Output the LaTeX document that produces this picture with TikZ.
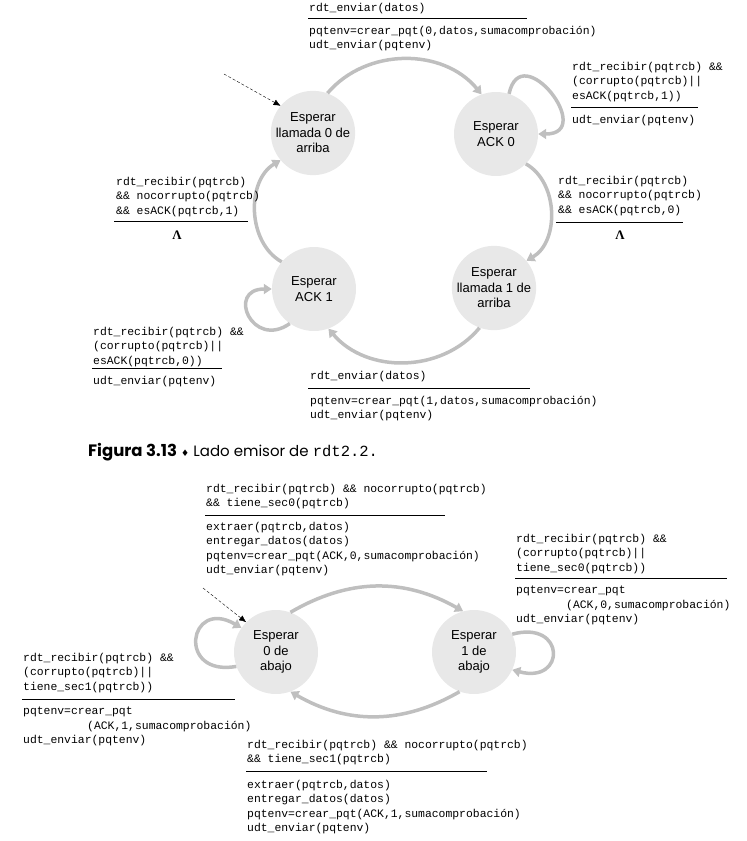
\documentclass[tikz,border=0pt]{standalone}
\usepackage{fontspec}
\setmainfont{Liberation Sans}
\newfontfamily\codefont{Liberation Mono}
\newfontfamily\capfont{Poppins}
\newfontfamily\symfont{DejaVu Sans}
\newfontfamily\lamfont{Liberation Serif}
\usetikzlibrary{arrows.meta}

\begin{document}
\begin{tikzpicture}[x=1pt,y=-1pt,
  state/.style={circle,fill=gray!18,minimum size=84pt,inner sep=0pt,align=center,
    font=\fontsize{13}{15.5}\selectfont},
  trans/.style={draw=gray!50,line width=3.5pt,-{Triangle[length=8pt,width=10pt]}},
  init/.style={dash pattern=on 3pt off 2pt,-{Latex[length=7pt,width=6pt]}},
  code/.style={anchor=north west,inner sep=0pt,align=left,
    font=\codefont\fontsize{11.4}{14.5}\selectfont},
  lam/.style={inner sep=0pt,font=\lamfont\bfseries\fontsize{13}{13}\selectfont},
  rule/.style={line width=0.8pt}]
\useasboundingbox (0,0) rectangle (747,841);

% emisor
\node[state] (ll0) at (313,133) {Esperar\\llamada 0 de\\arriba};
\node[state] (ack0) at (496,134) {Esperar\\ACK 0};
\node[state] (ack1) at (314,289) {Esperar\\ACK 1};
\node[state] (ll1) at (494,288) {Esperar\\llamada 1 de\\arriba};

\coordinate (ini) at (224,74);
\draw[init] (ini) -- (ll0.140);
\draw[trans] (ll0.70) to[bend left=50] (ack0.110);
\draw[trans] (ack0.72) to[out=78,in=0,looseness=3] (ack0.0);
\draw[trans] (ack0.-45) to[bend left=60] (ll1.40);
\draw[trans] (ll1.-110) to[bend left=50] (ack1.-70);
\draw[trans] (ack1.235) to[out=215,in=180,looseness=3] (ack1.180);
\draw[trans] (ack1.140) to[bend left=60] (ll0.220);

\node[code] (e1) at (309,3) {rdt\_enviar(datos)};
\draw[rule] (308,18) -- (527,18);
\node[code] (a1) at (309,26) {pqtenv=crear\_pqt(0,datos,sumacomprobación)\\udt\_enviar(pqtenv)};

\node[code] (e2) at (572,62) {rdt\_recibir(pqtrcb) \&\&\\(corrupto(pqtrcb)||\\esACK(pqtrcb,1))};
\draw[rule] (571,107) -- (698,107);
\node[code] (a2) at (572,115) {udt\_enviar(pqtenv)};

\node[code] (e3) at (116,177) {rdt\_recibir(pqtrcb)\\\&\& nocorrupto(pqtrcb)\\\&\& esACK(pqtrcb,1)};
\draw[rule] (114,221) -- (248,221);
\node[lam] (a3) at (177,235) {Λ};

\node[code] (e4) at (558,176) {rdt\_recibir(pqtrcb)\\\&\& nocorrupto(pqtrcb)\\\&\& esACK(pqtrcb,0)};
\draw[rule] (556,222) -- (683,222);
\node[lam] (a4) at (620,235) {Λ};

\node[code] (e5) at (93,327) {rdt\_recibir(pqtrcb) \&\&\\(corrupto(pqtrcb)||\\esACK(pqtrcb,0))};
\draw[rule] (92,368) -- (222,368);
\node[code] (a5) at (93,376) {udt\_enviar(pqtenv)};

\node[code] (e6) at (310,371) {rdt\_enviar(datos)};
\draw[rule] (308,388) -- (530,388);
\node[code] (a6) at (310,396) {pqtenv=crear\_pqt(1,datos,sumacomprobación)\\udt\_enviar(pqtenv)};

\node[anchor=west,inner sep=0pt] (cap) at (88,452) {\fontsize{15}{17}\selectfont
  {\capfont\bfseries\fontsize{16.5}{17}\selectfont Figura 3.13} {\symfont\fontsize{9}{9}\selectfont ♦} {\capfont Lado emisor de}
  {\codefont\fontsize{15.5}{17}\selectfont rdt2.2.}};

% receptor
\node[state] (ab0) at (276,652) {Esperar\\0 de\\abajo};
\node[state] (ab1) at (474,652) {Esperar\\1 de\\abajo};

\coordinate (inib) at (203,588);
\draw[init] (inib) -- (ab0.135);
\draw[trans] (ab0.70) to[bend left=30] (ab1.105);
\draw[trans] (ab1.25) to[out=15,in=-15,looseness=4] (ab1.-25);
\draw[trans] (ab1.-110) to[bend left=30] (ab0.-70);
\draw[trans] (ab0.200) to[out=190,in=150,looseness=4] (ab0.145);

\node[code] (e7) at (206,484) {rdt\_recibir(pqtrcb) \&\& nocorrupto(pqtrcb)\\\&\& tiene\_sec0(pqtrcb)};
\draw[rule] (205,515) -- (445,515);
\node[code] (a7) at (206,522) {extraer(pqtrcb,datos)\\entregar\_datos(datos)\\pqtenv=crear\_pqt(ACK,0,sumacomprobación)\\udt\_enviar(pqtenv)};

\node[code] (e8) at (516,534) {rdt\_recibir(pqtrcb) \&\&\\(corrupto(pqtrcb)||\\tiene\_sec0(pqtrcb))};
\draw[rule] (515,578) -- (727,578);
\node[code] (a8) at (516,586) {pqtenv=crear\_pqt\\\hspace*{50pt}(ACK,0,sumacomprobación)\\udt\_enviar(pqtenv)};

\node[code] (e9) at (23,653) {rdt\_recibir(pqtrcb) \&\&\\(corrupto(pqtrcb)||\\tiene\_sec1(pqtrcb))};
\draw[rule] (22,699) -- (235,699);
\node[code] (a9) at (23,707) {pqtenv=crear\_pqt\\\hspace*{64pt}(ACK,1,sumacomprobación)\\udt\_enviar(pqtenv)};

\node[code] (e10) at (247,740) {rdt\_recibir(pqtrcb) \&\& nocorrupto(pqtrcb)\\\&\& tiene\_sec1(pqtrcb)};
\draw[rule] (246,771) -- (487,771);
\node[code] (a10) at (247,780) {extraer(pqtrcb,datos)\\entregar\_datos(datos)\\pqtenv=crear\_pqt(ACK,1,sumacomprobación)\\udt\_enviar(pqtenv)};
\end{tikzpicture}
\end{document}
